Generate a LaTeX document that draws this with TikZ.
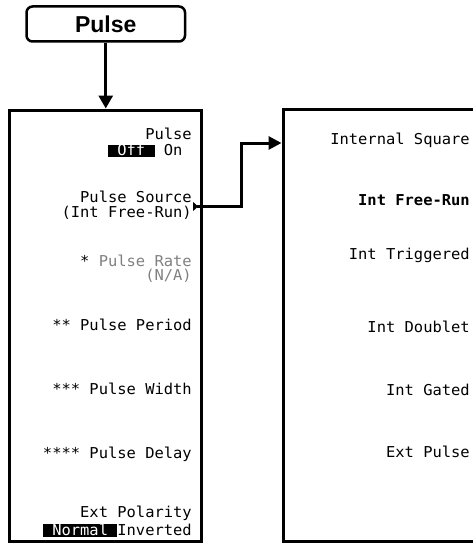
\documentclass[tikz,border=0pt]{standalone}
\usepackage{fontspec}
\usetikzlibrary{arrows.meta}
\newfontfamily\lcdfont[FakeStretch=1.03]{DejaVu Sans Mono}
\newfontfamily\keyfont{Liberation Sans}
\newcommand\hilite[1]{{\setlength\fboxsep{0pt}\colorbox{black}{\textcolor{white}{\rule[-1.5pt]{0pt}{12.5pt}#1}}}}
\begin{document}
\begin{tikzpicture}[x=1pt,y=-1pt,
  keybox/.style={draw, line width=2.5pt, rounded corners=6pt, minimum width=158.5pt, minimum height=35pt, inner sep=0pt, font=\keyfont\bfseries\fontsize{23}{26}\selectfont},
  menubox/.style={draw, line width=3pt, minimum height=431.5pt, inner sep=0pt},
  softkey/.style={anchor=east, align=right, inner sep=0pt, font=\lcdfont\fontsize{15}{13}\selectfont},
  wire/.style={line width=3pt}]
\clip (0,0) rectangle (473,543);
\node[keybox] (key) at (105.75,24) {Pulse};
\node[menubox, minimum width=192.5pt] (lmenu) at (105.25,325.75) {};
\node[menubox, minimum width=217pt] (rmenu) at (391.5,325.5) {};
% left menu
\node[softkey] (pulse) at (192,143) {Pulse\\[3pt]\hilite{ Off } On\hphantom{0}};
\node[softkey] (src) at (192,205) {Pulse Source\\[1.5pt](Int Free-Run)};
\node[softkey] (rate) at (192,269) {* \textcolor{gray}{Pulse Rate}\\[1pt]\textcolor{gray}{(N/A)}};
\node[softkey] (period) at (192,325) {** Pulse Period};
\node[softkey] (width) at (192,389) {*** Pulse Width};
\node[softkey] (delay) at (192,454) {**** Pulse Delay};
\node[softkey] (polarity) at (192,521.5) {Ext Polarity\\[2pt]\hilite{ Normal }Inverted};
% right menu
\node[softkey] (sq) at (470,140) {Internal Square};
\node[softkey] (frun) at (470,200) {\bfseries Int Free-Run};
\node[softkey] (trig) at (470,255) {Int Triggered};
\node[softkey] (doub) at (470,327) {Int Doublet};
\node[softkey] (gated) at (470,390) {Int Gated};
\node[softkey] (ext) at (470,452) {Ext Pulse};
\coordinate (jog) at (241.5,175);
\draw[wire, -{Triangle[length=13pt,width=14pt]}] (key.south) -- (key.south |- lmenu.north);
\draw[wire, {Triangle[reversed,length=5pt,width=9pt]}-{Triangle[length=13pt,width=13pt]}] ([shift={(1,1.5)}]src.east) -| (jog) |- ([yshift=-3pt]rmenu.west |- sq);
\end{tikzpicture}
\end{document}
